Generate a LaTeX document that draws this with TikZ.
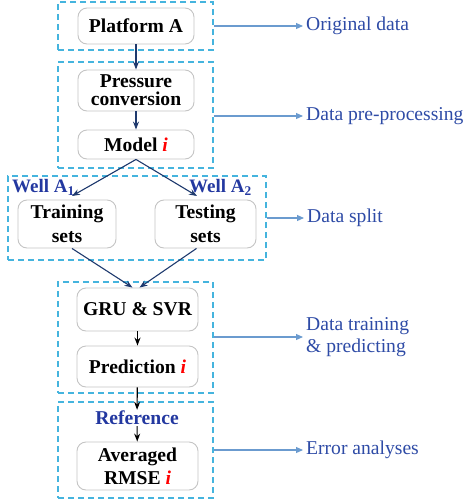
\documentclass[tikz,border=0pt]{standalone}
\usepackage{fontspec}
\setmainfont{Liberation Serif}
\usetikzlibrary{arrows.meta,calc}
\definecolor{dashc}{HTML}{45B4DE}
\definecolor{lblc}{HTML}{2E4BA6}
\definecolor{navyc}{HTML}{1F3A6E}
\definecolor{sidec}{HTML}{6B9BCF}
\definecolor{wellc}{HTML}{2338A0}
\definecolor{boxc}{HTML}{C4C4C4}
\newcommand\ri{\textcolor{red}{\textit{i}}}
\begin{document}
\begin{tikzpicture}[x=1pt,y=-1pt,
  dbox/.style={draw=dashc, line width=1.4pt, dash pattern=on 6pt off 4pt, inner sep=0pt},
  rbox/.style={draw=boxc, line width=0.9pt, rounded corners=9pt, inner sep=0pt, align=center,
     font=\fontsize{19.6}{#1}\selectfont\bfseries},
  rbox/.default=19,
  arr/.style={draw=navyc, line width=1.1pt, -{Stealth[length=8pt,width=6pt]}},
  sarr/.style={draw=sidec, line width=1.1pt, -{Triangle[length=7pt,width=6pt]}, shorten >=3pt},
  side/.style={anchor=west, text=lblc, inner sep=0pt, align=left, font=\fontsize{19.6}{22}\selectfont},
  well/.style={text=wellc, inner sep=0pt, font=\fontsize{19}{19}\selectfont\bfseries}]
\useasboundingbox (0,0) rectangle (474,504);
% dashed group boxes
\node[dbox, minimum width=155pt, minimum height=48pt] (d1) at (135.5,26) {};
\node[dbox, minimum width=155pt, minimum height=106pt] (d2) at (135.5,115) {};
\node[dbox, minimum width=258pt, minimum height=84pt] (d3) at (137,218) {};
\node[dbox, minimum width=155pt, minimum height=111pt] (d4) at (135.5,337.5) {};
\node[dbox, minimum width=155pt, minimum height=96pt] (d5) at (135.5,450) {};
% process boxes
\node[rbox, minimum width=116pt, minimum height=36pt] (pa) at (136,26) {Platform A};
\node[rbox=18, minimum width=116pt, minimum height=41pt] (pc) at (136,90.5) {Pressure\\conversion};
\node[rbox, minimum width=116pt, minimum height=29pt] (mi) at (136,144.5) {Model \ri};
\node[rbox=24, minimum width=98pt, minimum height=48pt] (tr) at (67,224) {Training\\sets};
\node[rbox=24, minimum width=101pt, minimum height=48pt] (te) at (205.5,224) {Testing\\sets};
\node[rbox, minimum width=121pt, minimum height=43pt] (gs) at (137.5,309.5) {GRU \& SVR};
\node[rbox, minimum width=121pt, minimum height=41pt] (pr) at (137.5,366.5) {Prediction \ri};
\node[text=wellc, inner sep=1pt, font=\fontsize{19.6}{19}\selectfont\bfseries] (ref) at (137,418) {Reference};
\node[rbox=23, minimum width=121pt, minimum height=48pt] (ar) at (137.5,466) {Averaged\\RMSE \ri};
% well labels
\node[well, anchor=west] (w1) at (12,187.5) {Well A\textsubscript{1}};
\node[well, anchor=east] (w2) at (252,187.5) {Well A\textsubscript{2}};
% flow arrows
\coordinate (c1) at (72,196);
\coordinate (c2) at (197,196);
\draw[arr] (pa) -- (pc);
\draw[arr] (pc) -- (mi);
\draw[arr] (mi.south) -- (c1);
\draw[arr] (mi.south) -- (c2);
\draw[arr] ($(tr.south)+(5,0)$) -- ($(gs.north)+(-5,0)$);
\draw[arr] ($(te.south)+(-9,0)$) -- ($(gs.north)+(2,0)$);
\draw[arr, draw=black] (gs) -- (pr);
\draw[arr, draw=black] (pr) -- (ref);
\draw[arr, draw=black] (ref) -- (ar);
% side labels
\node[side] (l1) at (306,26) {Original data};
\node[side] (l2) at (306,116) {Data pre-processing};
\node[side] (l3) at (307,218) {Data split};
\node[side] (l4) at (306,337) {Data training\\\& predicting};
\node[side] (l5) at (306,450) {Error analyses};
\draw[sarr] (d1.east) -- (l1.west);
\draw[sarr] (d2.east |- l2.west) -- (l2.west);
\draw[sarr] (d3.east) -- (l3.west);
\draw[sarr] (d4.east |- l4.west) -- (l4.west);
\draw[sarr] (d5.east) -- (l5.west);
\end{tikzpicture}
\end{document}
